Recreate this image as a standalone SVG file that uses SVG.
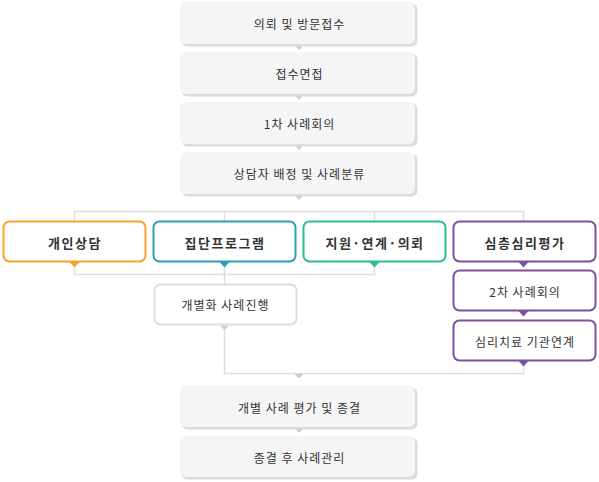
<svg xmlns="http://www.w3.org/2000/svg" width="599" height="482" viewBox="0 0 599 482">
<style>
.sh{fill:#dcdcdc}
.g{fill:#f5f5f5}
.t{font-family:"Noto Sans CJK KR","Noto Sans",sans-serif;font-size:12px;letter-spacing:1px;fill:#333;text-anchor:middle;dominant-baseline:central}
.b{font-family:"Noto Sans CJK KR","Noto Sans",sans-serif;font-size:13px;letter-spacing:1.5px;font-weight:bold;fill:#333;text-anchor:middle;dominant-baseline:central}
.c{fill:#fff;stroke-width:2}
.ln{fill:none;stroke:#dedede;stroke-width:1.5}
.gt{fill:#cccccc}
</style>
<g id="connectors">
<polygon class="gt" points="295,45.5 303,45.5 299,50"/>
<polygon class="gt" points="295,95.5 303,95.5 299,100"/>
<polygon class="gt" points="295,145.5 303,145.5 299,150"/>
<polygon class="gt" points="295,195.5 303,195.5 299,200"/>
<path class="ln" d="M74.5,221 V211.5 H523.5 V221 M224.5,211.5 V221 M374.5,211.5 V221"/>
<path class="ln" d="M74.5,263 V274.5 H374.5 V263 M224.5,263 V284"/>
<path class="ln" d="M224.5,326 V373.5 H523.5 V362"/>
<polygon fill="#f9a12e" points="69.5,262 79.5,262 74.5,267.5"/>
<polygon fill="#2aa0b5" points="219.5,262 229.5,262 224.5,267.5"/>
<polygon fill="#2bbd8c" points="369.5,262 379.5,262 374.5,267.5"/>
<polygon fill="#7e519b" points="518.5,262 528.5,262 523.5,267.5"/>
<polygon fill="#7e519b" points="518.5,311 528.5,311 523.5,316.5"/>
<polygon fill="#7e519b" points="518.5,361 528.5,361 523.5,366.5"/>
<polygon class="gt" points="220,325.5 229,325.5 224.5,330"/>
<polygon class="gt" points="294.5,374 303.5,374 299,378.5"/>
<polygon class="gt" points="295,428.5 303,428.5 299,433"/>
</g>
<g id="n1"><rect class="sh" x="181.5" y="3.5" width="236" height="43" rx="6"/><rect class="g" x="180" y="2" width="235" height="42" rx="6"/><text class="t" x="299.5" y="23">의뢰 및 방문접수</text></g>
<g id="n2"><rect class="sh" x="181.5" y="53.5" width="236" height="43" rx="6"/><rect class="g" x="180" y="52" width="235" height="42" rx="6"/><text class="t" x="299.5" y="73">접수면접</text></g>
<g id="n3"><rect class="sh" x="181.5" y="103.5" width="236" height="43" rx="6"/><rect class="g" x="180" y="102" width="235" height="42" rx="6"/><text class="t" x="299.5" y="123">1차 사례회의</text></g>
<g id="n4"><rect class="sh" x="181.5" y="153.5" width="236" height="43" rx="6"/><rect class="g" x="180" y="152" width="235" height="42" rx="6"/><text class="t" x="299.5" y="173">상담자 배정 및 사례분류</text></g>
<g id="n5"><rect class="c" stroke="#f9a12e" x="3.5" y="221.5" width="142" height="40" rx="6"/><text class="b" x="75" y="242">개인상담</text></g>
<g id="n6"><rect class="c" stroke="#2aa0b5" x="153.5" y="221.5" width="142" height="40" rx="6"/><text class="b" x="225" y="242">집단프로그램</text></g>
<g id="n7"><rect class="c" stroke="#2bbd8c" x="303.5" y="221.5" width="142" height="40" rx="6"/><text class="b" x="375" y="242">지원·연계·의뢰</text></g>
<g id="n8"><rect class="c" stroke="#7e519b" x="453.5" y="221.5" width="142" height="40" rx="6"/><text class="b" x="525" y="242">심층심리평가</text></g>
<g id="n9"><rect class="c" stroke="#dddddd" x="154.5" y="284.5" width="142" height="40" rx="6"/><text class="t" x="225.5" y="304">개별화 사례진행</text></g>
<g id="n10"><rect class="c" stroke="#7e519b" x="453.5" y="270.5" width="142" height="40" rx="6"/><text class="t" x="525" y="291">2차 사례회의</text></g>
<g id="n11"><rect class="c" stroke="#7e519b" x="453.5" y="320.5" width="142" height="40" rx="6"/><text class="t" x="525" y="341">심리치료 기관연계</text></g>
<g id="n12"><rect class="sh" x="181.5" y="387.5" width="236" height="42" rx="6"/><rect class="g" x="180" y="386" width="235" height="41" rx="6"/><text class="t" x="299.5" y="407">개별 사례 평가 및 종결</text></g>
<g id="n13"><rect class="sh" x="181.5" y="437.5" width="236" height="42" rx="6"/><rect class="g" x="180" y="436" width="235" height="41" rx="6"/><text class="t" x="299.5" y="457">종결 후 사례관리</text></g>
</svg>
